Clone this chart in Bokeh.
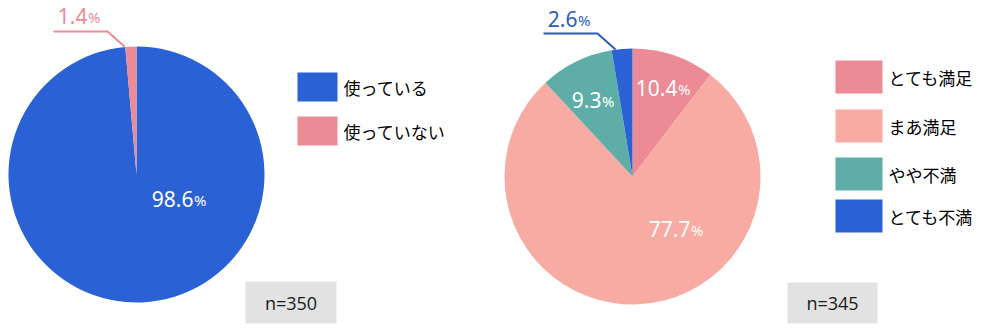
import numpy as np
from bokeh.plotting import figure
from bokeh.models import Range1d
from bokeh.core.properties import value
from bokeh.embed import file_html
from bokeh.resources import INLINE

# ---- data ----
use_labels = ["使っている", "使っていない"]
use_values = [98.6, 1.4]
use_colors = ["#2a62d5", "#ec8a96"]
use_n = "n=350"

sat_labels = ["とても満足", "まあ満足", "やや不満", "とても不満"]
sat_values = [10.4, 77.7, 9.3, 2.6]
sat_colors = ["#ec8a96", "#f8aba2", "#5eaea7", "#2a62d5"]
sat_n = "n=345"

W, H = 995, 333
JP = value("Noto Sans CJK JP")
NUM = value("Noto Sans")

p = figure(width=W, height=H, x_range=Range1d(0, W), y_range=Range1d(0, H),
           output_backend="svg", toolbar_location=None, min_border=0)
p.axis.visible = False
p.grid.visible = False
p.outline_line_color = None
p.background_fill_color = "white"


def Y(py):
    return H - py


def pie(cx, cy, r, vals, cols):
    vals = np.array(vals, dtype=float)
    frac = vals / vals.sum()
    cum = np.concatenate([[0], np.cumsum(frac)])
    starts = np.pi / 2 - 2 * np.pi * cum[1:]
    ends = np.pi / 2 - 2 * np.pi * cum[:-1]
    p.wedge(x=cx, y=Y(cy), radius=r, start_angle=list(starts), end_angle=list(ends),
            fill_color=cols, line_color=None)


def pct(x, y, v, color, size=21):
    p.text(x=[x], y=[Y(y)], text=[f"{v:.1f}"], text_font=NUM, text_font_size=f"{size}px",
           text_color=color, text_align="right", text_baseline="middle")
    p.text(x=[x + 0.5], y=[Y(y) - 1.5], text=["%"], text_font=NUM, text_font_size=f"{int(size*0.72)}px",
           text_color=color, text_align="left", text_baseline="middle")


def legend(x0, ys, w, h, labels, cols, tx):
    for yy, lab, c in zip(ys, labels, cols):
        p.quad(left=x0, right=x0 + w, top=Y(yy), bottom=Y(yy + h), fill_color=c, line_color=None)
        p.text(x=[tx], y=[Y(yy + h / 2)], text=[lab], text_font=JP, text_font_size="17px",
               text_color="#000000", text_align="left", text_baseline="middle")


def nbox(x0, x1, y0, y1, txt):
    p.quad(left=x0, right=x1, top=Y(y0), bottom=Y(y1), fill_color="#e2e2e2", line_color=None)
    p.text(x=[(x0 + x1) / 2], y=[Y((y0 + y1) / 2)], text=[txt], text_font=value("Open Sans"),
           text_font_size="18px", text_color="#1a1a1a", text_align="center", text_baseline="middle")


# left pie
pie(136, 174, 128, use_values, use_colors)
pct(193, 198, use_values[0], "white")
pct(87, 15, use_values[1], use_colors[1])
p.line(x=[53, 107, 124], y=[Y(31), Y(31), Y(46)], line_color=use_colors[1], line_width=2)
legend(297, [72, 116], 40, 29, use_labels, use_colors, 343)
nbox(245, 336, 281, 323, use_n)

# right pie
pie(632, 176, 128, sat_values, sat_colors)
pct(677, 87, sat_values[0], "white")
pct(690, 228, sat_values[1], "white")
pct(601, 99, sat_values[2], "white")
pct(577, 18, sat_values[3], "#2f5cb8")
p.line(x=[543, 597, 615], y=[Y(33), Y(33), Y(49)], line_color="#2f5cb8", line_width=2)
legend(835, [60, 109, 157, 199], 47, 33, sat_labels, sat_colors, 888)
nbox(787, 877, 282, 323, sat_n)

open("out.html", "w").write(file_html(p, INLINE))
